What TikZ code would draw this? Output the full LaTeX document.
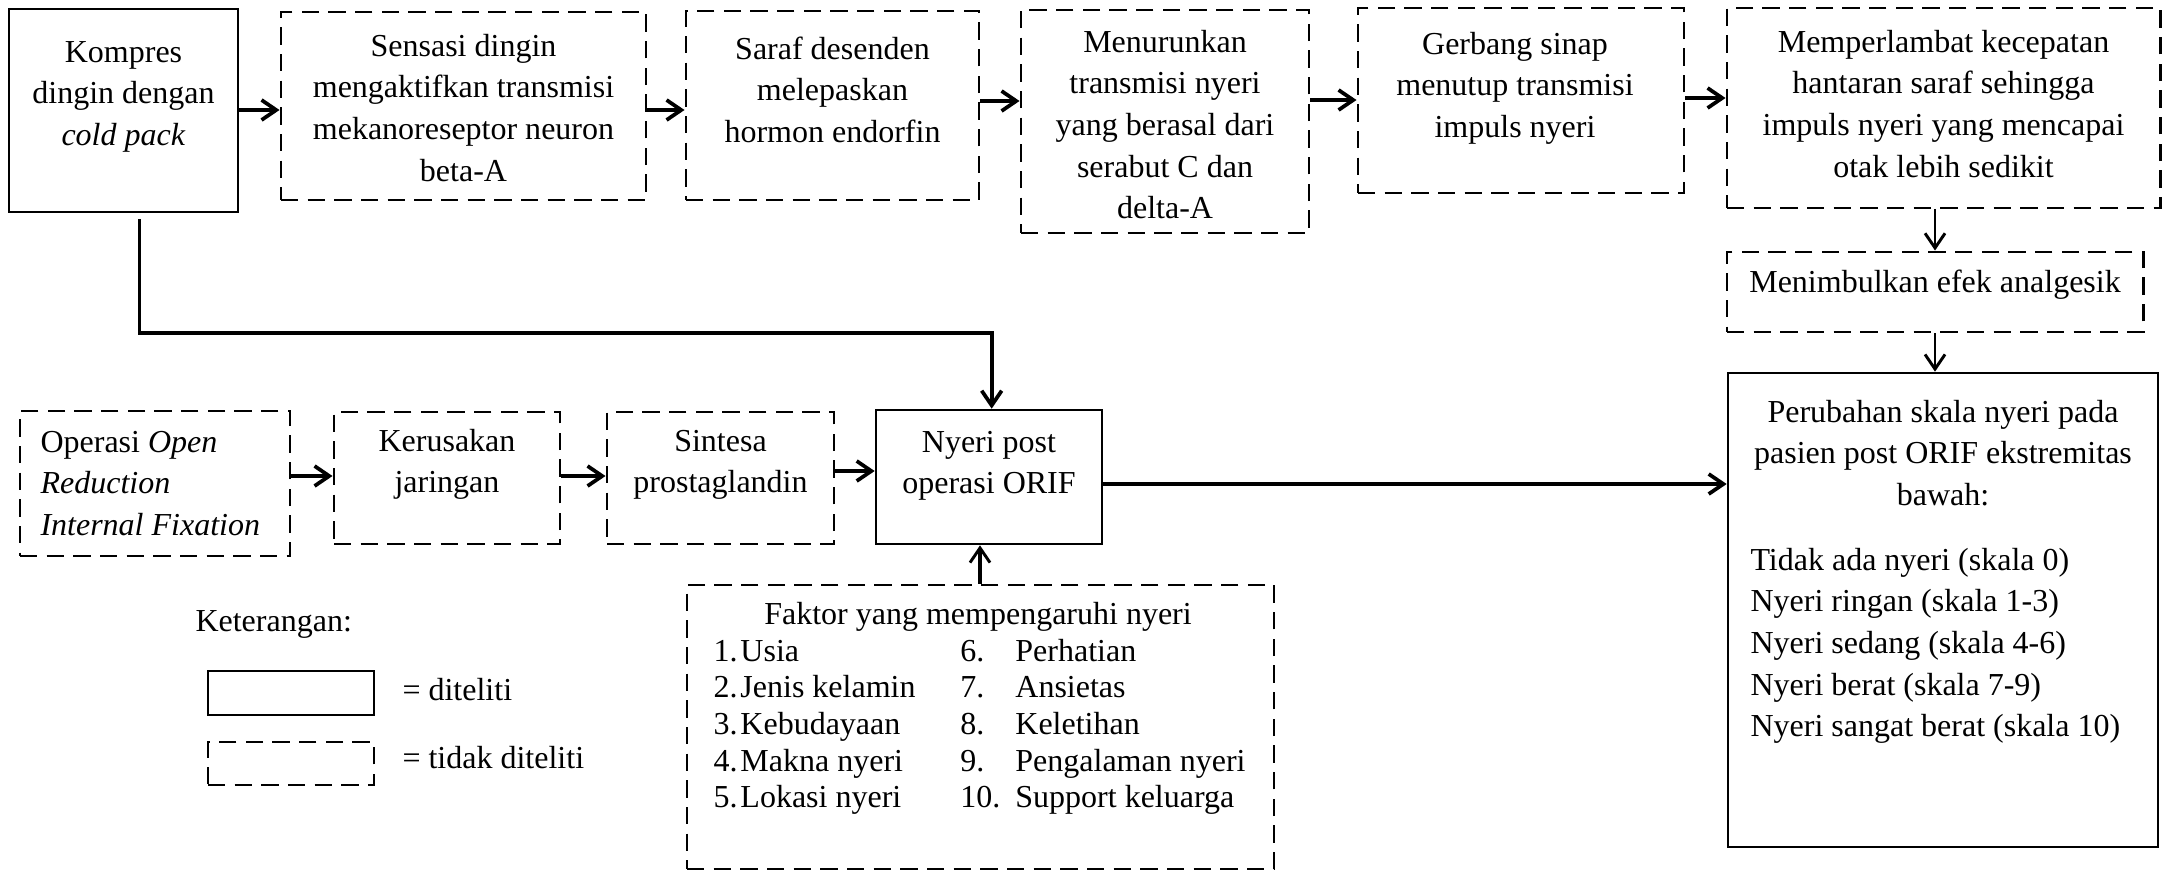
\documentclass[tikz,border=0pt]{standalone}
\usepackage{fontspec}
\setmainfont{Liberation Serif}
\usetikzlibrary{arrows.meta,fit}
\newcommand{\ctab}[1]{\begin{tabular}[t]{@{}c@{}}#1\end{tabular}}
\newcommand{\ltab}[1]{\begin{tabular}[t]{@{}l@{}}#1\end{tabular}}
\begin{document}
\begin{tikzpicture}[x=0.375pt,y=-0.375pt,
  solidbox/.style={draw, line width=1pt, inner sep=0pt},
  dashbox/.style={draw, line width=1.1pt, dash pattern=on 6.5pt off 3.5pt, inner sep=0pt},
  txt/.style={inner sep=0pt, anchor=base, font=\fontsize{12pt}{15.64pt}\selectfont},
  ltxt/.style={txt, anchor=base west},
  conn/.style={line width=1.4pt, -{Straight Barb[length=5.5pt,width=7.5pt,line width=1.4pt]}},
  thinconn/.style={line width=1pt, -{Straight Barb[length=5.5pt,width=7.5pt,line width=1.1pt]}},
]
\useasboundingbox (0,0) rectangle (2163,872);

% top row
\node[solidbox, fit={(9,9) (238,212)}] (kompres) {};
\node[txt] at (123.5,62) {\ctab{Kompres\\dingin dengan\\\textit{cold pack}}};

\node[dashbox, fit={(281,12) (646,200)}] (sensasi) {};
\node[txt] at (463.5,56) {\ctab{Sensasi dingin\\mengaktifkan transmisi\\mekanoreseptor neuron\\beta-A}};

\node[dashbox, fit={(686,11) (979,200)}] (saraf) {};
\node[txt] at (832.5,59) {\ctab{Saraf desenden\\melepaskan\\hormon endorfin}};

\node[dashbox, fit={(1021,10) (1309,233)}] (menurun) {};
\node[txt] at (1165,52) {\ctab{Menurunkan\\transmisi nyeri\\yang berasal dari\\serabut C dan\\delta-A}};

\node[dashbox, fit={(1358,8) (1684,193)}] (gerbang) {};
\node[txt] at (1515,54) {\ctab{Gerbang sinap\\menutup transmisi\\impuls nyeri}};

\node[dashbox, fit={(1727,8) (2160,208)}] (lambat) {};
\node[txt] at (1943.5,52) {\ctab{Memperlambat kecepatan\\hantaran saraf sehingga\\impuls nyeri yang mencapai\\otak lebih sedikit}};

\node[dashbox, fit={(1727,252) (2143,332)}] (analges) {};
\node[txt] at (1935,292) {Menimbulkan efek analgesik};

% middle row
\node[dashbox, fit={(20,411) (290,556)}] (operasi) {};
\node[ltxt] at (40,452) {\ltab{Operasi \textit{Open}\\\textit{Reduction}\\\textit{Internal Fixation}}};

\node[dashbox, fit={(334,412) (560,544)}] (rusak) {};
\node[txt] at (447,451) {\ctab{Kerusakan\\jaringan}};

\node[dashbox, fit={(607,412) (834,544)}] (sintesa) {};
\node[txt] at (720.5,451) {\ctab{Sintesa\\prostaglandin}};

\node[solidbox, fit={(876,410) (1102,544)}] (nyeri) {};
\node[txt] at (989,452) {\ctab{Nyeri post\\operasi ORIF}};

\node[solidbox, fit={(1728,373) (2158,847)}] (ubah) {};
\node[txt] at (1943,422) {\ctab{Perubahan skala nyeri pada\\pasien post ORIF ekstremitas\\bawah:}};
\node[ltxt] at (1750,570) {\ltab{Tidak ada nyeri (skala 0)\\Nyeri ringan (skala 1-3)\\Nyeri sedang (skala 4-6)\\Nyeri berat (skala 7-9)\\Nyeri sangat berat (skala 10)}};

% faktor
\node[dashbox, fit={(687,585) (1274,869)}] (faktor) {};
\node[txt] at (978,624) {Faktor yang mempengaruhi nyeri};
\node[txt, anchor=base west, font=\fontsize{12pt}{13.75pt}\selectfont] at (713,661)
  {\begin{tabular}[t]{@{}p{10.1pt}@{}p{82.5pt}@{}p{20.6pt}@{}l@{}}
  1. & Usia & 6. & Perhatian\\
  2. & Jenis kelamin & 7. & Ansietas\\
  3. & Kebudayaan & 8. & Keletihan\\
  4. & Makna nyeri & 9. & Pengalaman nyeri\\
  5. & Lokasi nyeri & 10. & Support keluarga
  \end{tabular}};

% legend
\node[ltxt] at (195,631) {Keterangan:};
\node[solidbox, fit={(208,671) (374,715)}] (legsolid) {};
\node[dashbox, fit={(208,742) (374,785)}] (legdash) {};
\node[ltxt] at (402,700) {= diteliti};
\node[ltxt] at (402,768) {= tidak diteliti};

% connectors
\draw[conn] (kompres.east |- 0,110) -- (sensasi.west |- 0,110);
\draw[conn] (sensasi.east |- 0,110) -- (saraf.west |- 0,110);
\draw[conn] (saraf.east |- 0,101) -- (menurun.west |- 0,101);
\draw[conn] (menurun.east |- 0,100) -- (gerbang.west |- 0,100);
\draw[conn] (gerbang.east |- 0,98) -- (lambat.west |- 0,98);
\draw[thinconn] (analges.north |- lambat.south) -- (analges.north);
\draw[thinconn] (analges.south) -- (analges.south |- ubah.north);

\draw[conn] ([xshift=6pt,yshift=-2.2pt]kompres.south) |- ([xshift=1pt]nyeri.north |- 0,333) -- ([xshift=1pt]nyeri.north);

\draw[conn] (operasi.east |- 0,476) -- (rusak.west |- 0,476);
\draw[conn] (rusak.east |- 0,476) -- (sintesa.west |- 0,476);
\draw[conn] (sintesa.east |- 0,471) -- (nyeri.west |- 0,471);
\draw[conn] (nyeri.east |- 0,484) -- (ubah.west |- 0,484);
\draw[thinconn, line width=1.2pt] (faktor.north -| 980,0) -- (nyeri.south -| 980,0);
\end{tikzpicture}
\end{document}
